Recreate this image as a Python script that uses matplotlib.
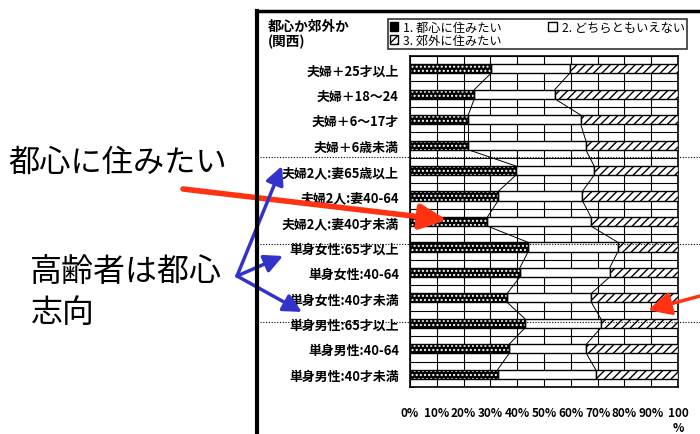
import matplotlib
matplotlib.use('Agg')
import numpy as np
import matplotlib.pyplot as plt
from matplotlib.patches import Patch

plt.rcParams['font.family'] = ['Noto Sans CJK JP', 'DejaVu Sans']
plt.rcParams['hatch.linewidth'] = 1.0

categories = ['夫婦＋25才以上', '夫婦＋18～24', '夫婦＋6～17才', '夫婦＋6歳未満',
              '夫婦2人:妻65歳以上', '夫婦2人:妻40-64', '夫婦2人:妻40才未満',
              '単身女性:65才以上', '単身女性:40-64', '単身女性:40才未満',
              '単身男性:65才以上', '単身男性:40-64', '単身男性:40才未満']
toshin = [30.2, 24.0, 21.7, 21.7, 39.5, 32.9, 28.9, 44.1, 41.0, 36.3, 42.9, 37.0, 32.7]
dochira = [29.4, 30.0, 42.0, 43.9, 29.2, 31.4, 38.6, 33.5, 33.5, 31.4, 28.3, 28.8, 36.6]
kogai = [100 - a - b for a, b in zip(toshin, dochira)]
series_names = ['1. 都心に住みたい', '2. どちらともいえない', '3. 郊外に住みたい']
xticklabels = ['0%', '10%', '20%', '30%', '40%', '50%', '60%', '70%', '80%', '90%', '100\n%']

W, H = 700, 435
def fx(x):
    return x / W
def fy(y):
    return 1 - y / H

fig = plt.figure(figsize=(7, 4.35), dpi=100)
ax = fig.add_axes([fx(410), fy(388), fx(678) - fx(410), (388 - 57) / H])

y = np.arange(len(categories))
h = 0.36
t = np.array(toshin)
d = np.array(dochira)
k = np.array(kogai)

ax.barh(y, t, h, color='black', edgecolor='white', hatch='....', linewidth=0, zorder=3)
ax.barh(y, t, h, fill=False, edgecolor='black', linewidth=1.0, zorder=4)
ax.barh(y, d, h, left=t, color='white', edgecolor='black', linewidth=1.0, zorder=3)
ax.barh(y, k, h, left=t + d, color='white', edgecolor='black', hatch='////', linewidth=1.0, zorder=3)

# series lines between bars
for c in [t, t + d]:
    for i in range(len(categories) - 1):
        ax.plot([c[i], c[i + 1]], [y[i] + h / 2, y[i + 1] - h / 2], color='black', lw=0.7, zorder=2)

ax.set_xlim(0, 100)
ax.set_ylim(len(categories) - 0.5, -0.5)
ax.set_xticks(np.arange(0, 101, 10))
ax.set_xticklabels(xticklabels, fontsize=8.5, fontweight='bold', va='top')
ax.set_yticks(y)
ax.set_yticklabels(categories, fontsize=9.3, fontweight='bold')
ax.set_yticks(np.arange(-0.5, len(categories), 1), minor=True)
ax.tick_params(axis='x', length=0, pad=14)
ax.tick_params(axis='y', which='major', length=0, pad=8)
ax.tick_params(axis='y', which='minor', length=3, direction='in')
ax.grid(axis='x', which='major', color='black', lw=0.8, zorder=0)
ax.grid(axis='y', which='minor', color='black', lw=0.8, zorder=0)
for s in ax.spines.values():
    s.set_linewidth(1.2)

# legend box
handles = [Patch(facecolor='black', edgecolor='black', hatch='....'),
           Patch(facecolor='white', edgecolor='black', hatch='////'),
           Patch(facecolor='white', edgecolor='black')]
labels = [series_names[0], series_names[2], series_names[1]]
leg = fig.legend(handles, labels, ncol=2, loc='upper left', bbox_to_anchor=(fx(388), fy(20)),
                 fontsize=8.8, frameon=True, fancybox=False, edgecolor='black',
                 handlelength=0.7, handleheight=0.7, handletextpad=0.4, labelspacing=0.0,
                 columnspacing=3.8, borderpad=0.15, borderaxespad=0)
leg.get_frame().set_linewidth(1.2)

# chart title
fig.text(fx(268), fy(20), '都心か郊外か\n(関西)', fontsize=9.8, fontweight='bold', va='top', ha='left',
         linespacing=1.1)

# scanned page frame
fig.add_artist(plt.Line2D([fx(257), fx(257)], [fy(12), 0], color='black', lw=3))
fig.add_artist(plt.Line2D([fx(257), 1], [fy(12), fy(12)], color='black', lw=2.5))
for yy in [158, 245, 323]:
    fig.add_artist(plt.Line2D([fx(260), 1], [fy(yy), fy(yy)], color='black', lw=0.8, ls=(0, (1, 1.5))))

# annotations
fig.text(fx(8), fy(163), '都心に住みたい', fontsize=22.5, va='center', ha='left')
fig.text(fx(30), fy(272), '高齢者は都心', fontsize=23, va='center', ha='left')
fig.text(fx(30), fy(313), '志向', fontsize=23, va='center', ha='left')

red = '#ff3311'
blue = '#3333cc'
def arrow(x0, y0, x1, y1, color, lw, hw, hl):
    fig.add_artist(matplotlib.patches.FancyArrowPatch(
        (fx(x0), fy(y0)), (fx(x1), fy(y1)), transform=fig.transFigure,
        arrowstyle=f'-|>,head_width={hw},head_length={hl}', color=color, lw=lw,
        shrinkA=0, shrinkB=0, mutation_scale=10))

arrow(183, 190, 447, 221, red, 4, 0.75, 1.6)
arrow(700, 297, 648, 311, red, 2.5, 0.7, 1.4)
arrow(237, 277, 282, 167, blue, 2.5, 0.55, 1.1)
arrow(237, 277, 283, 257, blue, 2.5, 0.55, 1.1)
arrow(237, 277, 302, 313, blue, 2.5, 0.55, 1.1)

fig.savefig('out.png', dpi=100)
